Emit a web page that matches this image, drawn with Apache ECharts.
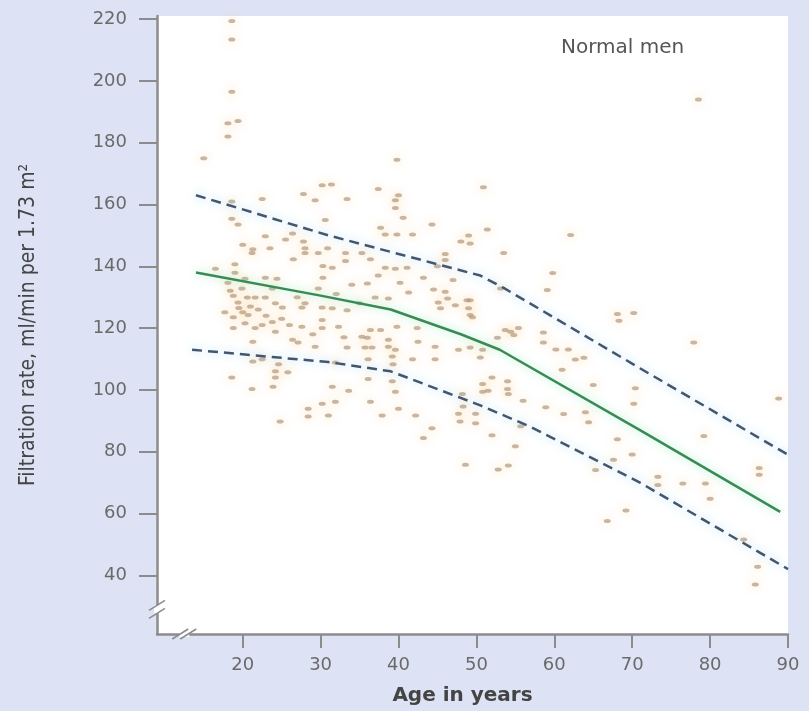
<!DOCTYPE html>
<html>
<head>
<meta charset="utf-8">
<script src="https://cdn.jsdelivr.net/npm/echarts@6/dist/echarts.min.js"></script>
<style>
  html, body { margin: 0; padding: 0; background: #dde3f4; }
  #chart { width: 809px; height: 711px; }
</style>
</head>
<body>
<div id="chart"></div>
<script>
var chart = echarts.init(document.getElementById('chart'));

// tick labels
var ageTicks = [20, 30, 40, 50, 60, 70, 80, 90];
var rateTicks = [40, 60, 80, 100, 120, 140, 160, 180, 200, 220];

// individual subjects [age, filtration rate]
var subjects = [
    [18.6, 219.4], [18.6, 213.4], [18.6, 196.5], [18.1, 186.3], [19.4, 187], [18.1, 182], [15, 175],
    [39.8, 174.5], [78.5, 194], [88.8, 97.2],
    [37.4, 165], [40, 163], [50.9, 165.6], [39.6, 161.4], [39.6, 158.9], [40.6, 155.7], [44.3, 153.5],
    [37.7, 152.5], [51.4, 151.9], [38.3, 150.3], [39.8, 150.3], [41.8, 150.3], [49, 150], [48, 148],
    [49.2, 147.4], [35.3, 144.3], [53.5, 144.3], [46, 144], [46, 142], [36.4, 142.3], [38.3, 139.5],
    [39.6, 139.2], [41.1, 139.5], [45, 140], [43.2, 136.3], [47, 135.6], [37.4, 137], [36, 134.4],
    [40.2, 134.7], [41.3, 131.5], [44.5, 132.5], [46, 131.8], [53.1, 132.8], [37, 129.9], [38.7, 129.6],
    [45.1, 128.3], [46.3, 129.6], [49.2, 129], [49, 126.4], [47.3, 127.4], [45.4, 126.4],
    [30.2, 166.2], [31.4, 166.5], [27.8, 163.4], [33.4, 161.8], [18.6, 161], [22.5, 161.8], [29.3, 161.4],
    [30.6, 155], [18.6, 155.4], [19.4, 153.5], [22.9, 149.7], [25.5, 148.7], [26.4, 150.6], [27.8, 148],
    [20, 147], [21.3, 145.5], [21.2, 144.3], [23.5, 145.8], [28, 145.8], [28, 144.3], [29.7, 144.3],
    [30.9, 145.8], [33.2, 144.3], [33.2, 141.7], [26.5, 142.3], [19, 140.7], [30.3, 140.1], [31.5, 139.5],
    [16.5, 139.2], [19, 137.9], [20.3, 136], [22.9, 136.3], [24.4, 136], [30.3, 136.3], [18.1, 134.7],
    [18.4, 132.1], [19.9, 132.8], [20.6, 129.9], [21.6, 129.9], [22.9, 129.9], [23.8, 132.8], [29.7, 132.8],
    [18.8, 130.5], [19.4, 128.3], [24.2, 128], [25.1, 126.7], [27.6, 126.7], [30.2, 126.7], [31.5, 126.4],
    [33.4, 125.8], [17.7, 125.1], [20, 125.1], [21, 127], [22, 126], [23, 124], [19.5, 126.5], [25, 123],
    [26, 121], [27, 130], [28, 128], [32, 131], [34, 134], [35, 128], [33, 117], [29, 118],
    [18.8, 123.5], [20.7, 124.2], [20.3, 121.6], [21.6, 120], [22.5, 121], [23.8, 122], [18.8, 120],
    [24.2, 118.8], [27.6, 120.4], [30.2, 122.6], [30.2, 120], [32.3, 120.4], [26.4, 116.2], [27.1, 115.3],
    [21.3, 115.6], [29.3, 114], [33.4, 113.7], [21.3, 109.2], [22.5, 109.9], [24.6, 108.3], [24.2, 106],
    [25.8, 105.7], [31.9, 108.9], [18.6, 104], [24.2, 104], [21.2, 100.3], [23.9, 101], [31.5, 101],
    [33.6, 99.7], [30.2, 95.5], [31.9, 96.2], [28.4, 93.9], [28.4, 91.4], [31, 91.7], [24.8, 89.8],
    [39.8, 120.4], [37.7, 119.4], [36.4, 119.4], [42.4, 120], [49.5, 123.5], [53.7, 119.4], [54.8, 117.8],
    [35.3, 117.2], [36, 116.9], [38.7, 116.2], [42.5, 115.6], [52.7, 116.9], [35.7, 113.7], [36.6, 113.7],
    [38.7, 114], [39.6, 113], [44.7, 114], [47.7, 113], [49.2, 113.7], [50.8, 113], [39.2, 110.8],
    [39.3, 108.3], [36.1, 109.9], [41.8, 109.9], [44.7, 109.9], [50.5, 110.5], [36.1, 103.5], [39.2, 102.8],
    [52, 104], [50.8, 101.9], [50.8, 99.4], [51.5, 99.7], [54, 100.3], [54.1, 98.7], [39.6, 99.4],
    [48.2, 98.7], [56, 96.5], [36.4, 96.2], [40, 93.9], [37.9, 91.7], [42.2, 91.7], [47.7, 92.3],
    [49.9, 92.3], [47.9, 89.8], [49.9, 89.2], [44.3, 87.6], [43.2, 84.4], [52, 85.3], [55, 81.8],
    [48.6, 75.8], [52.8, 74.2], [54.1, 75.5],
    [48.8, 129], [49.2, 124.2], [54.4, 118.8], [55.4, 120], [54, 102.8], [48.3, 94.6], [55.7, 88.2],
    [62.1, 150.1], [59.8, 137.8], [59.1, 132.3], [68.1, 124.6], [68.3, 122.4], [70.2, 124.9], [77.9, 115.3],
    [58.6, 118.6], [58.6, 115.3], [60.2, 113.1], [61.8, 113.1], [62.7, 109.8], [63.8, 110.4], [61, 106.5],
    [65, 101.6], [70.4, 100.5], [58.9, 94.4], [61.2, 92.2], [64, 92.8], [64.4, 89.5], [70.2, 95.5],
    [68.1, 84], [70, 79.1], [79.2, 85.1], [67.6, 77.4], [65.3, 74.1], [73.3, 71.9], [73.3, 69.2],
    [76.5, 69.7], [79.4, 69.7], [80, 64.8], [86.3, 74.7], [86.3, 72.5], [69.2, 61], [66.8, 57.6],
    [84.3, 51.6], [86.1, 42.8], [85.8, 37]
];

// regression line and its limits
var meanLine = [[14, 138], [30, 130.5], [39, 126], [48, 118], [53, 113], [71, 87], [89, 60.5]];
var upperLine = [[14, 163], [31, 150], [50.5, 137], [53.5, 133], [71, 107], [90, 79]];
var lowerLine = [[13.5, 113], [31, 109], [39, 106], [50.5, 95], [57, 88], [71, 70], [90, 42]];

var numFont = { color: '#6a6a6a', fontSize: 18, fontFamily: 'DejaVu Sans' };

option = {
    backgroundColor: '#dde3f4',
    animation: false,
    title: {
        text: 'Normal men',
        left: 556,
        top: 33,
        textStyle: { color: '#555', fontSize: 20, fontWeight: 'normal', fontFamily: 'DejaVu Sans' }
    },
    grid: {
        left: 157,
        right: 21,
        top: 16,
        bottom: 67,
        show: true,
        backgroundColor: '#ffffff',
        borderWidth: 0
    },
    xAxis: {
        type: 'value',
        min: 9,
        max: 90,
        name: 'Age in years',
        nameLocation: 'middle',
        nameGap: 52,
        nameTextStyle: {
            color: '#444', fontSize: 20, fontWeight: 'bold', fontFamily: 'DejaVu Sans',
            padding: [0, 20, 0, 0]
        },
        splitLine: { show: false },
        axisLine: { lineStyle: { color: '#8c8c8c', width: 2.5 } },
        axisTick: { customValues: ageTicks, length: 14, lineStyle: { color: '#8c8c8c', width: 2 } },
        axisLabel: Object.assign({ customValues: ageTicks, margin: 22 }, numFont)
    },
    yAxis: {
        type: 'value',
        min: 21,
        max: 221,
        name: 'Filtration rate, ml/min per 1.73 m²',
        nameLocation: 'middle',
        nameRotate: 90,
        nameGap: 118,
        nameTextStyle: {
            color: '#444', fontSize: 21, fontFamily: 'Liberation Sans Narrow, DejaVu Sans Condensed'
        },
        splitLine: { show: false },
        axisLine: { show: true, lineStyle: { color: '#8c8c8c', width: 2.5 } },
        axisTick: { show: true, customValues: rateTicks, length: 18, lineStyle: { color: '#8c8c8c', width: 2 } },
        axisLabel: Object.assign({ customValues: rateTicks, margin: 30 }, numFont)
    },
    series: [
        {
            name: 'subjects',
            type: 'scatter',
            data: subjects,
            symbol: 'circle',
            symbolSize: [7, 4],
            itemStyle: {
                color: 'rgba(175,150,125,0.85)',
                shadowBlur: 10,
                shadowColor: 'rgba(250,185,80,0.8)'
            },
            z: 2
        },
        {
            name: 'upper',
            type: 'line',
            data: upperLine,
            symbol: 'none',
            lineStyle: {
                color: '#44566e', width: 2.5, type: [10, 6],
                shadowBlur: 10, shadowColor: 'rgba(120,200,240,0.7)'
            },
            z: 3
        },
        {
            name: 'lower',
            type: 'line',
            data: lowerLine,
            symbol: 'none',
            lineStyle: {
                color: '#44566e', width: 2.5, type: [10, 6],
                shadowBlur: 10, shadowColor: 'rgba(120,200,240,0.7)'
            },
            z: 3
        },
        {
            name: 'mean',
            type: 'line',
            data: meanLine,
            symbol: 'none',
            lineStyle: {
                color: '#3a8a55', width: 2.5,
                shadowBlur: 10, shadowColor: 'rgba(120,230,170,0.7)'
            },
            z: 4
        }
    ]
};

chart.setOption(option);

// axis break marks "//"
function breakMark(pt, dx, dy) {
    var items = [];
    [-4, 4].forEach(function (off) {
        items.push({
            type: 'line',
            shape: { x1: pt[0] - 8 + off * dx, y1: pt[1] + 5 + off * dy, x2: pt[0] + 8 + off * dx, y2: pt[1] - 5 + off * dy },
            style: { stroke: '#8c8c8c', lineWidth: 1.5 },
            z: 10
        });
    });
    return items;
}
var yb = chart.convertToPixel({ gridIndex: 0 }, [9, 29]);
var xb = chart.convertToPixel({ gridIndex: 0 }, [12.5, 21]);
chart.setOption({
    graphic: [
        { type: 'rect', shape: { x: yb[0] - 3, y: yb[1] - 4, width: 6, height: 8 }, style: { fill: '#ffffff' }, z: 9 },
        { type: 'rect', shape: { x: xb[0] - 5, y: xb[1] - 3, width: 10, height: 6 }, style: { fill: '#ffffff' }, z: 9 }
    ].concat(breakMark(yb, 0, 1)).concat(breakMark(xb, 1, 0))
});
</script>
</body>
</html>
